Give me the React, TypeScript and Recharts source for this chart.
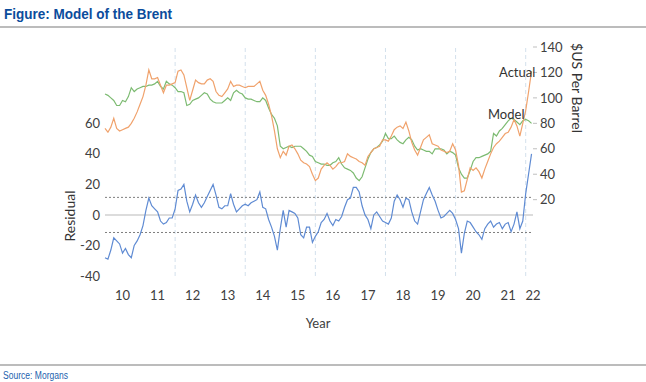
import { ComposedChart, Line, XAxis, YAxis, ReferenceLine } from 'recharts';

// Monthly series, Jan 2010 .. Mar 2022 ($US per barrel)
const actual = [
  76, 73, 77, 84, 76, 74, 75, 76, 77, 80, 84, 89,
  95, 101, 110, 122, 115, 115, 116, 110, 104, 110, 110, 111,
  112, 121, 122, 118, 108, 98, 106, 114, 112, 111, 111, 114,
  115, 113, 105, 102, 101, 104, 107, 113, 109, 110, 110, 109,
  108, 109, 109, 109, 111, 113, 106, 102, 95, 86, 74, 60,
  53, 58, 55, 62, 63, 60, 56, 51, 49, 48, 46, 40,
  35, 37, 44, 47, 49, 47, 44, 46, 49, 49, 50, 56,
  54, 53, 52, 50, 49, 47, 54, 57, 60, 61, 62, 67,
  67, 66, 70, 75, 77, 78, 76, 81, 74, 65, 59, 55,
  61, 67, 69, 71, 64, 63, 62, 59, 58, 57, 58, 64,
  59, 47, 26, 27, 36, 45, 43, 45, 42, 37, 44, 50,
  56, 61, 64, 66, 69, 72, 73, 77, 83, 78, 70, 80,
  90, 105, 121,
];

const model = [
  103, 102, 100, 98, 94, 94, 98, 97, 101, 108, 105, 107,
  108, 109, 109, 110, 110, 111, 113, 109, 107, 113, 111, 110,
  108, 105, 105, 104, 94, 95, 98, 99, 100, 102, 104, 103,
  99, 97, 96, 96, 96, 98, 100, 98, 104, 106, 104, 103,
  100, 99, 99, 98, 97, 97, 100, 98, 92, 87, 84, 78,
  62, 60, 61, 62, 61, 62, 62, 62, 60, 58, 55, 54,
  50, 49, 48, 48, 47, 47, 49, 50, 53, 48, 45, 44,
  43, 41, 37, 35, 38, 45, 52, 57, 60, 61, 63, 66,
  72, 68, 68, 70, 67, 65, 64, 67, 69, 67, 62, 59,
  60, 59, 58, 58, 56, 60, 60, 60, 59, 56, 58, 57,
  55, 45, 40, 37, 37, 43, 50, 53, 53, 54, 55, 56,
  58, 72, 70, 74, 76, 79, 82, 84, 83, 81, 79, 82,
  83, 82, 80,
];

const residual = [
  -28, -29, -23, -15, -17, -19, -25, -22, -26, -28, -20, -17,
  -13, -7, 3, 11, 6, 4, 2, -4, -6, -5, -2, -2,
  4, 16, 17, 20, 9, 2, 7, 13, 8, 5, 8, 12,
  16, 20, 13, 5, 4, 6, 6, 14, 7, 2, 4, 6,
  7, 6, 8, 9, 10, 15, 5, 4, -3, -8, -14, -23,
  -9, 3, -8, 3, 2, 1, -2, -13, -15, -8, -8, -18,
  -14, -11, -5, -3, 1, -4, -7, -3, -4, -1, 5, 10,
  11, 18, 18, 15, 6, 0, -3, -9, 0, 2, -1, -4,
  -5, -6, -2, 9, 13, 10, 5, 11, 10, 2, -4, -6,
  2, 10, 14, 18, 13, 9, 3, -2, -1, 1, 3, 1,
  -3, -9, -25, -12, -4, -5, -8, -11, -13, -16, -9, -6,
  -4, -8, -6, -5, -9, -6, -5, -11, -6, 2, -9, -4,
  14, 27, 40,
];

const yearTicks = [6, 18, 30, 42, 54, 66, 78, 90, 102, 114, 126, 138, 146.5];
const yearLabels = ['10', '11', '12', '13', '14', '15', '16', '17', '18', '19', '20', '21', '22'];
const yearGrid = [24, 48, 72, 96, 120, 144];
const residualBands = [11.5, -11.5];
const leftTicks = [-40, -20, 0, 20, 40, 60];
const rightTicks = [20, 40, 60, 80, 100, 120, 140];

const data = actual.map((a, i) => ({ m: i, actual: a, model: model[i], residual: residual[i] }));

const tickStyle = { fill: '#404040', fontSize: 13, fontFamily: 'Lato' };

export default function App() {
  return (
    <div style={{ position: 'fixed', left: 0, top: 0, width: 646, height: 382, background: '#fff' }}>
      <ComposedChart
        width={646}
        height={382}
        data={data}
        margin={{ top: 47, right: 73, bottom: 76, left: 65 }}
      >
        <XAxis
          dataKey="m"
          type="number"
          domain={[0, 146.5]}
          ticks={yearTicks}
          interval={0}
          tickFormatter={(v) => yearLabels[yearTicks.indexOf(v)]}
          axisLine={false}
          tickLine={false}
          tickMargin={9}
          height={30}
          tick={tickStyle}
        />
        <YAxis
          yAxisId="left"
          orientation="left"
          domain={[-40, 110]}
          ticks={leftTicks}
          axisLine={false}
          tickLine={false}
          tickSize={5}
          tickMargin={0}
          width={40}
          tick={tickStyle}
        />
        <YAxis
          yAxisId="right"
          orientation="right"
          domain={[-40, 140]}
          ticks={rightTicks}
          axisLine={false}
          tickLine={{ stroke: '#bfbfbf' }}
          tickSize={4}
          tickMargin={3}
          width={40}
          tick={tickStyle}
        />
        {yearGrid.map((m) => (
          <ReferenceLine key={m} x={m} yAxisId="left" stroke="#d3e0ec" strokeDasharray="4 3" />
        ))}
        <ReferenceLine y={0} yAxisId="left" stroke="#d0d0d0" strokeWidth={1.5} />
        {residualBands.map((v) => (
          <ReferenceLine key={v} y={v} yAxisId="left" stroke="#7f7f7f" strokeDasharray="2 2" />
        ))}
        <Line yAxisId="right" dataKey="model" stroke="#7dbb72" strokeWidth={1.2} dot={false} isAnimationActive={false} />
        <Line yAxisId="right" dataKey="actual" stroke="#f0a26c" strokeWidth={1.2} dot={false} isAnimationActive={false} />
        <Line yAxisId="left" dataKey="residual" stroke="#5f8bd3" strokeWidth={1.2} dot={false} isAnimationActive={false} />
      </ComposedChart>

      <svg width={646} height={382} style={{ position: 'absolute', left: 0, top: 0, pointerEvents: 'none' }}>
        <text x={4} y={19} fontFamily="Liberation Sans, Arial" fontWeight="bold" fontSize={14} fill="#0b4c9c"
          textLength={168} lengthAdjust="spacingAndGlyphs">
          Figure: Model of the Brent
        </text>
        <line x1={0} x2={646} y1={27} y2={27} stroke="#a6a6a6" strokeWidth={1.5} />
        <line x1={0} x2={646} y1={365} y2={365} stroke="#a6a6a6" strokeWidth={1.5} />
        <text x={3} y={379} fontFamily="Liberation Sans, Arial" fontSize={10} fill="#1d5fae"
          textLength={65} lengthAdjust="spacingAndGlyphs">
          Source: Morgans
        </text>

        <g fontFamily="Lato" fill="#333" fontSize={13}>
          <text x={499} y={77}>Actual</text>
          <text x={488} y={119}>Model</text>
          <text x={318} y={328} textAnchor="middle" fill="#404040">Year</text>
          <text transform="translate(75 216) rotate(-90)" textAnchor="middle" fontSize={14}>Residual</text>
          <text transform="translate(572 88) rotate(90)" textAnchor="middle" fontSize={14}>$US Per Barrel</text>
        </g>
      </svg>
    </div>
  );
}
